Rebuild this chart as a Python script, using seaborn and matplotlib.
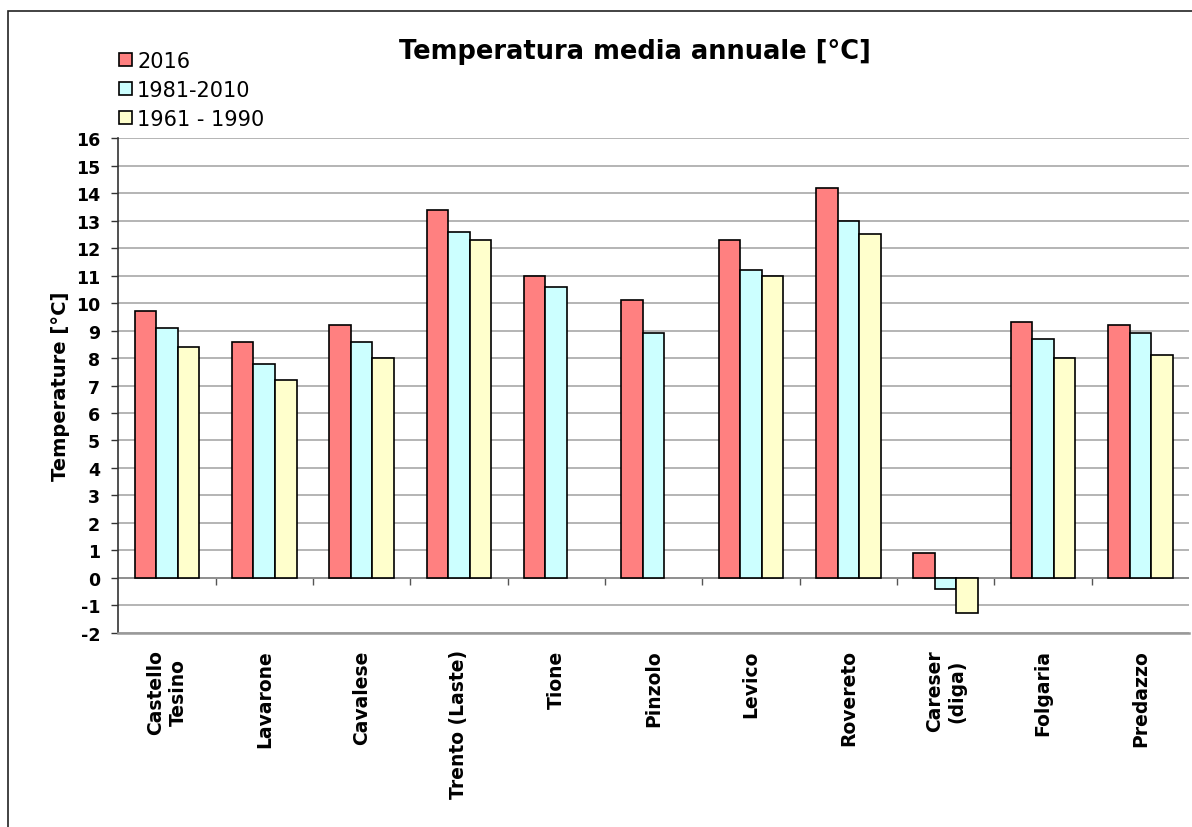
import numpy as np
import pandas as pd
import matplotlib
matplotlib.use("Agg")
import matplotlib.pyplot as plt
from matplotlib.patches import Rectangle
import seaborn as sns

stations = ["Castello\nTesino", "Lavarone", "Cavalese", "Trento (Laste)", "Tione",
            "Pinzolo", "Levico", "Rovereto", "Careser\n(diga)", "Folgaria", "Predazzo"]
series = ["2016", "1981-2010", "1961 - 1990"]
t_2016 = [9.7, 8.6, 9.2, 13.4, 11.0, 10.1, 12.3, 14.2, 0.9, 9.3, 9.2]
t_1981_2010 = [9.1, 7.8, 8.6, 12.6, 10.6, 8.9, 11.2, 13.0, -0.4, 8.7, 8.9]
t_1961_1990 = [8.4, 7.2, 8.0, 12.3, np.nan, np.nan, 11.0, 12.5, -1.3, 8.0, 8.1]
yticks = list(range(-2, 17))
colors = ["#FF8080", "#CCFFFF", "#FFFFCC"]

rows = []
for name, vals in zip(series, [t_2016, t_1981_2010, t_1961_1990]):
    for st, v in zip(stations, vals):
        rows.append({"Stazione": st, "Serie": name, "T": v})
df = pd.DataFrame(rows)

sns.set_theme(style="white")
plt.rcParams["font.family"] = ["DejaVu Sans"]
plt.rcParams["text.color"] = "black"
plt.rcParams["axes.labelcolor"] = "black"
plt.rcParams["xtick.color"] = "black"
plt.rcParams["ytick.color"] = "black"

fig = plt.figure(figsize=(11.92, 8.28), dpi=100)
ax = fig.add_axes([118.3 / 1192, 1 - 633.6 / 828, (1189 - 118.3) / 1192, (633.6 - 139.4) / 828])

sns.barplot(data=df, x="Stazione", y="T", hue="Serie", order=stations, hue_order=series,
            palette=colors, dodge=True, width=0.667, errorbar=None,
            edgecolor="black", linewidth=1.2, saturation=1, ax=ax, zorder=3)

ax.set_ylim(-2, 16)
ax.set_xlim(-0.5, len(stations) - 0.5)
ax.set_yticks(yticks)
ax.set_yticklabels([str(t) for t in yticks], fontsize=12.5, fontweight="bold")
ax.yaxis.grid(True, color="#a0a0a0", linewidth=1.1, zorder=0)
ax.xaxis.grid(False)
ax.axhline(0, color="#8a8a8a", linewidth=1.2, zorder=2)
ax.set_axisbelow(True)

for s in ["top", "right"]:
    ax.spines[s].set_visible(False)
ax.spines["left"].set_color("#333333")
ax.spines["left"].set_linewidth(1.2)
ax.spines["bottom"].set_color("#999999")
ax.spines["bottom"].set_linewidth(1.8)

ax.tick_params(axis="y", which="major", left=True, length=5, width=1, color="#333333",
               pad=8, direction="out")
ax.tick_params(axis="x", length=0, pad=12)
ax.set_xticks(range(len(stations)))
ax.set_xticklabels(stations, rotation=90, fontsize=13.5, fontweight="bold",
                   ha="center", va="top", multialignment="center")
ax.set_xlabel("")
ax.set_ylabel("Temperature [°C]", fontsize=14, fontweight="bold", labelpad=4)

# tick marks on the zero line between categories
sec = ax.secondary_xaxis(2 / 18)
sec.set_xticks([i + 0.5 for i in range(len(stations) - 1)])
sec.set_xticklabels([])
sec.tick_params(axis="x", direction="out", length=5, width=1, color="#555555")
sec.spines["bottom"].set_visible(False)
sec.spines["top"].set_visible(False)

# legend
handles, labels = ax.get_legend_handles_labels()
if ax.legend_ is not None:
    ax.legend_.remove()
leg = fig.legend(handles, labels, loc="upper left",
                 bbox_to_anchor=(119 / 1192, 1 - 52 / 828), frameon=False,
                 fontsize=15, handlelength=0.62, handleheight=0.62, handletextpad=0.25,
                 labelspacing=0.43, borderaxespad=0, borderpad=0)

fig.text(635 / 1192, 1 - 52 / 828, "Temperatura media annuale [°C]", ha="center", va="center",
         fontsize=18.5, fontweight="bold")

# outer chart frame (left and top edges visible)
fig.patches.append(Rectangle((8 / 1192, -0.2), 1.5, 0.2 + (1 - 12 / 828), transform=fig.transFigure,
                             fill=False, edgecolor="#222222", linewidth=1.2, zorder=0))

fig.savefig("out.png", dpi=100)
